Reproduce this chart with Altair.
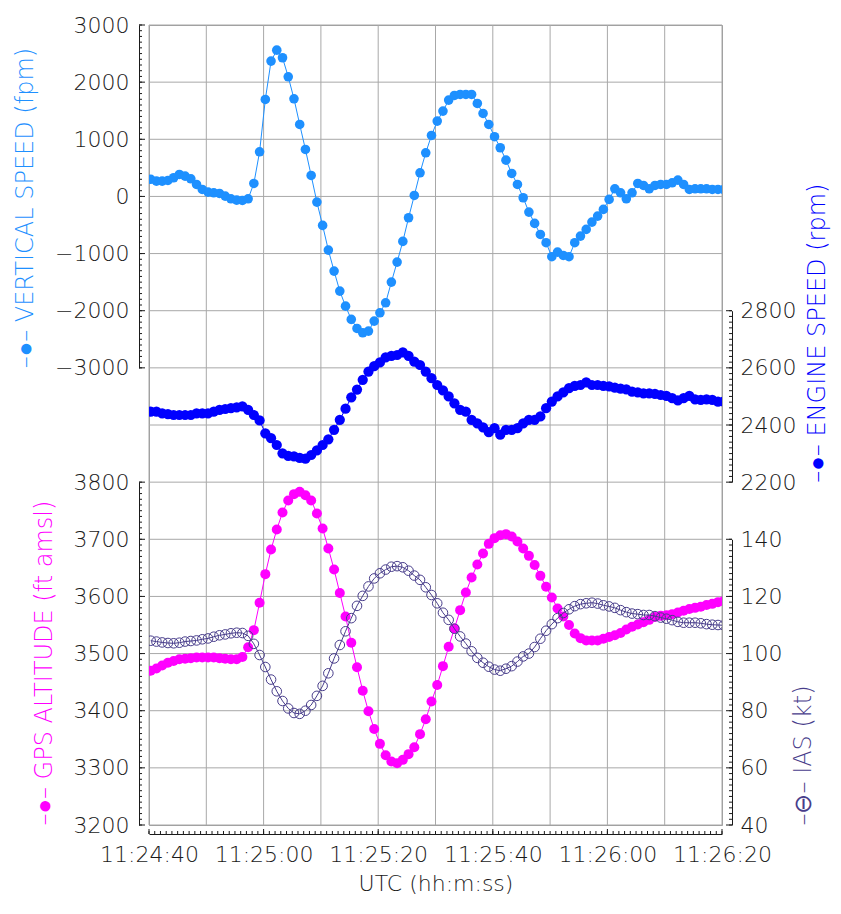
import altair as alt
import pandas as pd

# ---------------- data (1 Hz samples, first sample 0.3 s after 11:24:40) ----------------
T_START = 0.3  # seconds after 11:24:40

VS = [300, 268, 268, 280, 327, 385, 355, 309, 210, 122,
      76, 64, 52, 6, -41, -64, -70, -41, 227, 781,
      1697, 2368, 2560, 2427, 2094, 1709, 1260, 822, 367, -99,
      -507, -939, -1307, -1657, -1920, -2152, -2310, -2386, -2357, -2182,
      -2036, -1861, -1499, -1149, -787, -373, 17, 414, 764, 1067,
      1318, 1493, 1686, 1767, 1785, 1785, 1785, 1627, 1452, 1260,
      1045, 852, 635, 402, 210, -23, -274, -472, -665, -810,
      -1055, -975, -1033, -1055, -810, -694, -577, -449, -344, -227,
      -52, 134, 64, -41, 64, 227, 192, 134, 192, 210,
      210, 239, 285, 210, 122, 134, 134, 134, 122, 122,
      122]

ENGINE = [2447, 2447, 2441, 2438, 2435, 2435, 2435, 2435, 2441, 2441,
          2441, 2447, 2453, 2456, 2459, 2462, 2465, 2453, 2435, 2416,
          2371, 2354, 2330, 2301, 2292, 2290, 2285, 2282, 2295, 2311,
          2330, 2350, 2383, 2418, 2457, 2497, 2524, 2558, 2587, 2606,
          2619, 2637, 2642, 2645, 2654, 2642, 2622, 2610, 2587, 2564,
          2540, 2521, 2500, 2476, 2453, 2447, 2418, 2406, 2392, 2375,
          2389, 2366, 2383, 2383, 2389, 2406, 2418, 2418, 2430, 2459,
          2482, 2500, 2514, 2529, 2537, 2540, 2549, 2540, 2540, 2537,
          2535, 2531, 2527, 2525, 2517, 2514, 2511, 2511, 2509, 2505,
          2502, 2494, 2486, 2494, 2502, 2490, 2488, 2490, 2488, 2482,
          2482]

GPS_ALT = [3470, 3474, 3479, 3484, 3487, 3490, 3491, 3492, 3493, 3493,
           3493, 3493, 3492, 3491, 3490, 3490, 3494, 3511, 3541, 3589,
           3639, 3682, 3717, 3747, 3768, 3779, 3783, 3777, 3768, 3745,
           3719, 3684, 3647, 3606, 3565, 3519, 3476, 3435, 3399, 3368,
           3342, 3322, 3311, 3308, 3314, 3324, 3336, 3359, 3385, 3416,
           3445, 3478, 3512, 3544, 3576, 3607, 3633, 3656, 3675, 3692,
           3702, 3707, 3709, 3705, 3696, 3684, 3671, 3655, 3636, 3617,
           3598, 3579, 3565, 3550, 3535, 3527, 3523, 3523, 3523, 3526,
           3529, 3532, 3536, 3542, 3547, 3551, 3555, 3559, 3564, 3566,
           3567, 3569, 3572, 3575, 3578, 3580, 3582, 3585, 3587, 3590,
           3592]

IAS = [104.5, 104.2, 103.9, 103.7, 103.6, 103.8, 104.2, 104.4, 104.6, 105.0,
       105.3, 105.9, 106.4, 106.7, 107.1, 107.3, 107.2, 106.2, 103.4, 99.5,
       95.3, 90.9, 86.8, 83.4, 80.8, 79.2, 78.9, 80.0, 82.0, 85.2,
       88.7, 93.1, 98.3, 103.0, 107.8, 112.4, 116.7, 120.2, 123.5, 126.3,
       128.1, 129.4, 130.4, 130.6, 130.2, 129.0, 127.3, 125.8, 123.2, 120.5,
       117.6, 114.3, 111.8, 108.7, 106.0, 103.5, 100.8, 98.5, 96.8, 95.4,
       94.4, 94.0, 94.7, 95.6, 97.2, 99.0, 100.0, 102.3, 105.2, 108.0,
       110.3, 112.4, 114.2, 115.5, 116.6, 117.3, 117.6, 117.8, 117.5, 116.9,
       116.5, 116.0, 115.2, 114.5, 114.0, 113.8, 113.5, 113.5, 113.1, 112.6,
       112.2, 111.7, 111.1, 110.8, 110.8, 110.8, 110.6, 110.3, 110.1, 110.0,
       109.9]

TIME_LABELS = ["11:24:40", "11:25:00", "11:25:20", "11:25:40", "11:26:00", "11:26:20"]
TIME_LABEL_VALUES = [0, 20, 40, 60, 80, 100]

VS_TICKS = [-3000, -2000, -1000, 0, 1000, 2000, 3000]
ENGINE_TICKS = [2200, 2400, 2600, 2800]
ALT_TICKS = [3200, 3300, 3400, 3500, 3600, 3700, 3800]
IAS_TICKS = [40, 60, 80, 100, 120, 140]

# ---------------- styling ----------------
FONT = "DejaVu Sans"
FW = 300
TXT = "#1a1a1a"
GRID = "#a8a8a8"
W, H = 573, 800
U = H / 14.0

C_VS = "#1E90FF"
C_ENG = "#0000FF"
C_ALT = "#FF00FF"
C_IAS = "#483D8B"

t = [round(T_START + k, 1) for k in range(len(VS))]
df = pd.DataFrame({"t": t, "vs": VS, "eng": ENGINE, "alt": GPS_ALT, "ias": IAS})

X_SCALE = alt.Scale(domain=[0, 100], nice=False, zero=False)
label_expr = "[" + ",".join(repr(s) for s in TIME_LABELS) + "][round(datum.value / 20)]"
X_AXIS = alt.Axis(values=TIME_LABEL_VALUES, labelExpr=label_expr, ticks=False, grid=False,
                  domainColor=TXT, domainWidth=1, offset=9, labelPadding=10,
                  labelFlush=False, labelOverlap=False, labelFontSize=22, labelFont=FONT,
                  labelFontWeight=FW, labelColor=TXT, title="UTC (hh:m:ss)", titleFont=FONT,
                  titleFontSize=22, titleFontWeight=FW, titleColor=TXT, titlePadding=8)


def xenc():
    return alt.X("t:Q", scale=X_SCALE, axis=X_AXIS)


def series_group(field, color, domain, rng, orient, values, title, hollow, size):
    left = orient == "left"
    yscale = alt.Scale(domain=domain, range=rng, nice=False, zero=False)
    yaxis = alt.Axis(orient=orient, offset=10, values=values, ticks=False, grid=False,
                     domainColor=TXT, domainWidth=1, labelPadding=10 if left else 8,
                     labelFontSize=22, labelFont=FONT, labelFontWeight=FW, labelColor=TXT,
                     labelFlush=False, labelOverlap=False, format="d", title=title,
                     titleColor=color, titleFont=FONT, titleFontSize=24, titleFontWeight=FW,
                     titleAngle=270, titleAnchor="start", titleAlign="left",
                     titleBaseline="bottom" if left else "top",
                     titlePadding=17 if left else 10)
    y = alt.Y(f"{field}:Q", scale=yscale, axis=yaxis)
    base = alt.Chart(df)
    line = base.mark_line(color=color, strokeWidth=1, clip=True).encode(x=xenc(), y=y)
    if hollow:
        pts = base.mark_point(shape="circle", filled=False, color=color, size=size,
                              strokeWidth=1, opacity=1, clip=True).encode(x=xenc(), y=y)
    else:
        pts = base.mark_circle(color=color, size=size, opacity=1, clip=True).encode(x=xenc(), y=y)
    lo, hi = domain
    major_step = values[1] - values[0]
    minor_step = major_step / 10.0
    n = int(round((hi - lo) / minor_step))
    tv = [lo + i * minor_step for i in range(n + 1)]
    tdf = pd.DataFrame({field: tv, "major": [i % 10 == 0 for i in range(n + 1)]})
    ax0 = -10 if left else W + 10
    sgn = 1 if left else -1
    minor = alt.Chart(tdf).mark_rule(color=TXT, strokeWidth=1).encode(
        y=y, x=alt.value(ax0), x2=alt.value(ax0 + sgn * 3))
    major = alt.Chart(tdf).transform_filter("datum.major").mark_rule(color=TXT, strokeWidth=1).encode(
        y=y, x=alt.value(ax0), x2=alt.value(ax0 + sgn * 6))
    return alt.layer(line, pts, minor, major)


# grid + x ticks
gx = pd.DataFrame({"t": list(range(0, 101, 10))})
gy = pd.DataFrame({"g": list(range(15))})
xt = pd.DataFrame({"t": list(range(0, 101)), "major": [k % 20 == 0 for k in range(101)]})
vgrid = alt.Chart(gx).mark_rule(color=GRID, strokeWidth=1).encode(
    x=xenc(), y=alt.value(0), y2=alt.value(H))
hgrid = alt.Chart(gy).mark_rule(color=GRID, strokeWidth=1).encode(
    y=alt.Y("g:Q", scale=alt.Scale(domain=[0, 14], nice=False, zero=False), axis=None),
    x=alt.value(0), x2=alt.value(W))
xtick_minor = alt.Chart(xt).mark_rule(color=TXT, strokeWidth=1).encode(
    x=xenc(), y=alt.value(H + 9), y2=alt.value(H + 6))
xtick_major = alt.Chart(xt).transform_filter("datum.major").mark_rule(color=TXT, strokeWidth=1).encode(
    x=xenc(), y=alt.value(H + 9), y2=alt.value(H + 4))
grid = alt.layer(vgrid, hgrid, xtick_minor, xtick_major)

vs_g = series_group("vs", C_VS, [-3000, 3000], [6 * U, 0], "left", VS_TICKS,
                    "–●– VERTICAL SPEED (fpm)", False, 92)
eng_g = series_group("eng", C_ENG, [2200, 2800], [8 * U, 5 * U], "right", ENGINE_TICKS,
                     "–●– ENGINE SPEED (rpm)", False, 105)
alt_g = series_group("alt", C_ALT, [3200, 3800], [14 * U, 8 * U], "left", ALT_TICKS,
                     "–●– GPS ALTITUDE (ft amsl)", False, 100)
ias_g = series_group("ias", C_IAS, [40, 140], [14 * U, 9 * U], "right", IAS_TICKS,
                     "–⊖– IAS (kt)", True, 92)

chart = alt.layer(grid, vs_g, eng_g, alt_g, ias_g).resolve_scale(
    y="independent"
).properties(
    width=W, height=H,
    autosize=alt.AutoSizeParams(type="none"),
    padding={"left": 141, "top": 17, "right": 111, "bottom": 76},
).configure_view(stroke="#9a9a9a", strokeWidth=1)

chart.save("out.html", embed_options={"renderer": "svg", "actions": False})
